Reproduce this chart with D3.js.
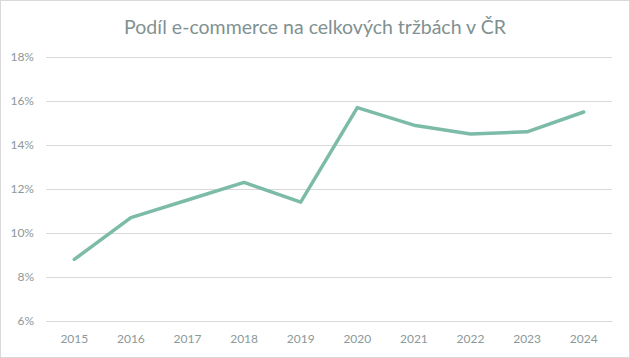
<!DOCTYPE html>
<html><head><meta charset="utf-8">
<script src="https://cdn.jsdelivr.net/npm/d3@7"></script>
<style>body{margin:0;background:#fff}svg{display:block}</style>
</head><body>
<script>
const title = "Podíl e-commerce na celkových tržbách v ČR";
const years = ["2015","2016","2017","2018","2019","2020","2021","2022","2023","2024"];
const shares = [8.8, 10.7, 11.5, 12.3, 11.4, 15.7, 14.9, 14.5, 14.6, 15.5];
const yTicks = [6, 8, 10, 12, 14, 16, 18];

const W = 630, H = 358;
const svg = d3.select("body").append("svg").attr("width", W).attr("height", H);
svg.append("rect").attr("x",0.5).attr("y",0.5).attr("width",W-1).attr("height",H-1)
  .attr("fill","#fff").attr("stroke","#d9d9d9");

const x = d3.scaleBand().domain(years).range([46, 612]);
const y = d3.scaleLinear().domain([6, 18]).range([321, 57]);

svg.append("text").attr("x", 315).attr("y", 34).attr("text-anchor","middle")
  .attr("font-family","Lato, 'Open Sans', sans-serif").attr("font-size", 19.5)
  .attr("fill","#7f9191").text(title);

const gy = svg.append("g").attr("transform","translate(46,0)")
  .call(d3.axisLeft(y).tickValues(yTicks).tickSize(-566).tickFormat(d => d + "%"));
gy.select(".domain").remove();
gy.selectAll("line").attr("stroke","#d9d9d9");
gy.selectAll("text").attr("x",-12).attr("fill","#8a9999")
  .attr("font-family","Lato, 'Open Sans', sans-serif").attr("font-size",12);

const gx = svg.append("g").attr("transform","translate(0,321)")
  .call(d3.axisBottom(x).tickSize(0).tickPadding(13));
gx.select(".domain").attr("stroke","#d9d9d9");
gx.selectAll("text").attr("fill","#8a9999")
  .attr("font-family","Lato, 'Open Sans', sans-serif").attr("font-size",12);

const line = d3.line().x((d,i) => x(years[i]) + x.bandwidth()/2).y(d => y(d));
svg.append("path").datum(shares).attr("d", line).attr("fill","none")
  .attr("stroke","#7dbba9").attr("stroke-width",3.5).attr("stroke-linejoin","round").attr("stroke-linecap","round");
</script>
</body></html>
